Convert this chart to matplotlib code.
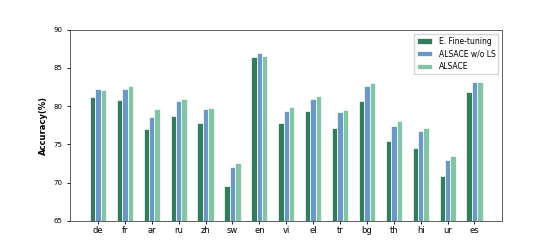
import numpy as np
import matplotlib
matplotlib.use('Agg')
import matplotlib.pyplot as plt

langs = ['de', 'fr', 'ar', 'ru', 'zh', 'sw', 'en', 'vi', 'el', 'tr', 'bg', 'th', 'hi', 'ur', 'es']
ft = [81.2, 80.8, 77.0, 78.7, 77.8, 69.6, 86.4, 77.8, 79.3, 77.2, 80.7, 75.5, 74.5, 70.8, 81.8]
wo_ls = [82.2, 82.3, 78.6, 80.7, 79.6, 72.0, 86.9, 79.4, 80.9, 79.2, 82.6, 77.4, 76.8, 73.0, 83.1]
alsace = [82.1, 82.6, 79.6, 80.9, 79.7, 72.6, 86.6, 79.9, 81.3, 79.5, 83.0, 78.1, 77.1, 73.5, 83.2]

fig, ax = plt.subplots(figsize=(5.58, 2.48), dpi=100)
x = np.arange(len(langs))
w = 0.2
ax.bar(x - w, ft, w, color='#347c5e', edgecolor='white', linewidth=0.5, label='E. Fine-tuning')
ax.bar(x, wo_ls, w, color='#6a9ac4', edgecolor='white', linewidth=0.5, label='ALSACE w/o LS')
ax.bar(x + w, alsace, w, color='#82c4a5', edgecolor='white', linewidth=0.5, label='ALSACE')

ax.set_ylim(65, 90)
ax.set_xlim(-1.05, 15.03)
ax.set_xticks(x)
ax.set_xticklabels(langs, fontsize=6)
ax.set_yticks([65, 70, 75, 80, 85, 90])
ax.tick_params(axis='y', labelsize=5, length=2, width=0.6)
ax.tick_params(axis='x', length=2, width=0.6, pad=2)
ax.set_ylabel('Accuracy(%)', fontsize=6, fontweight='bold')
for s in ax.spines.values():
    s.set_linewidth(0.6)
    s.set_color('#444444')
ax.legend(loc='upper right', fontsize=5.5, fancybox=False, edgecolor='#cccccc', handlelength=2)

plt.savefig('out.png', dpi=100)
